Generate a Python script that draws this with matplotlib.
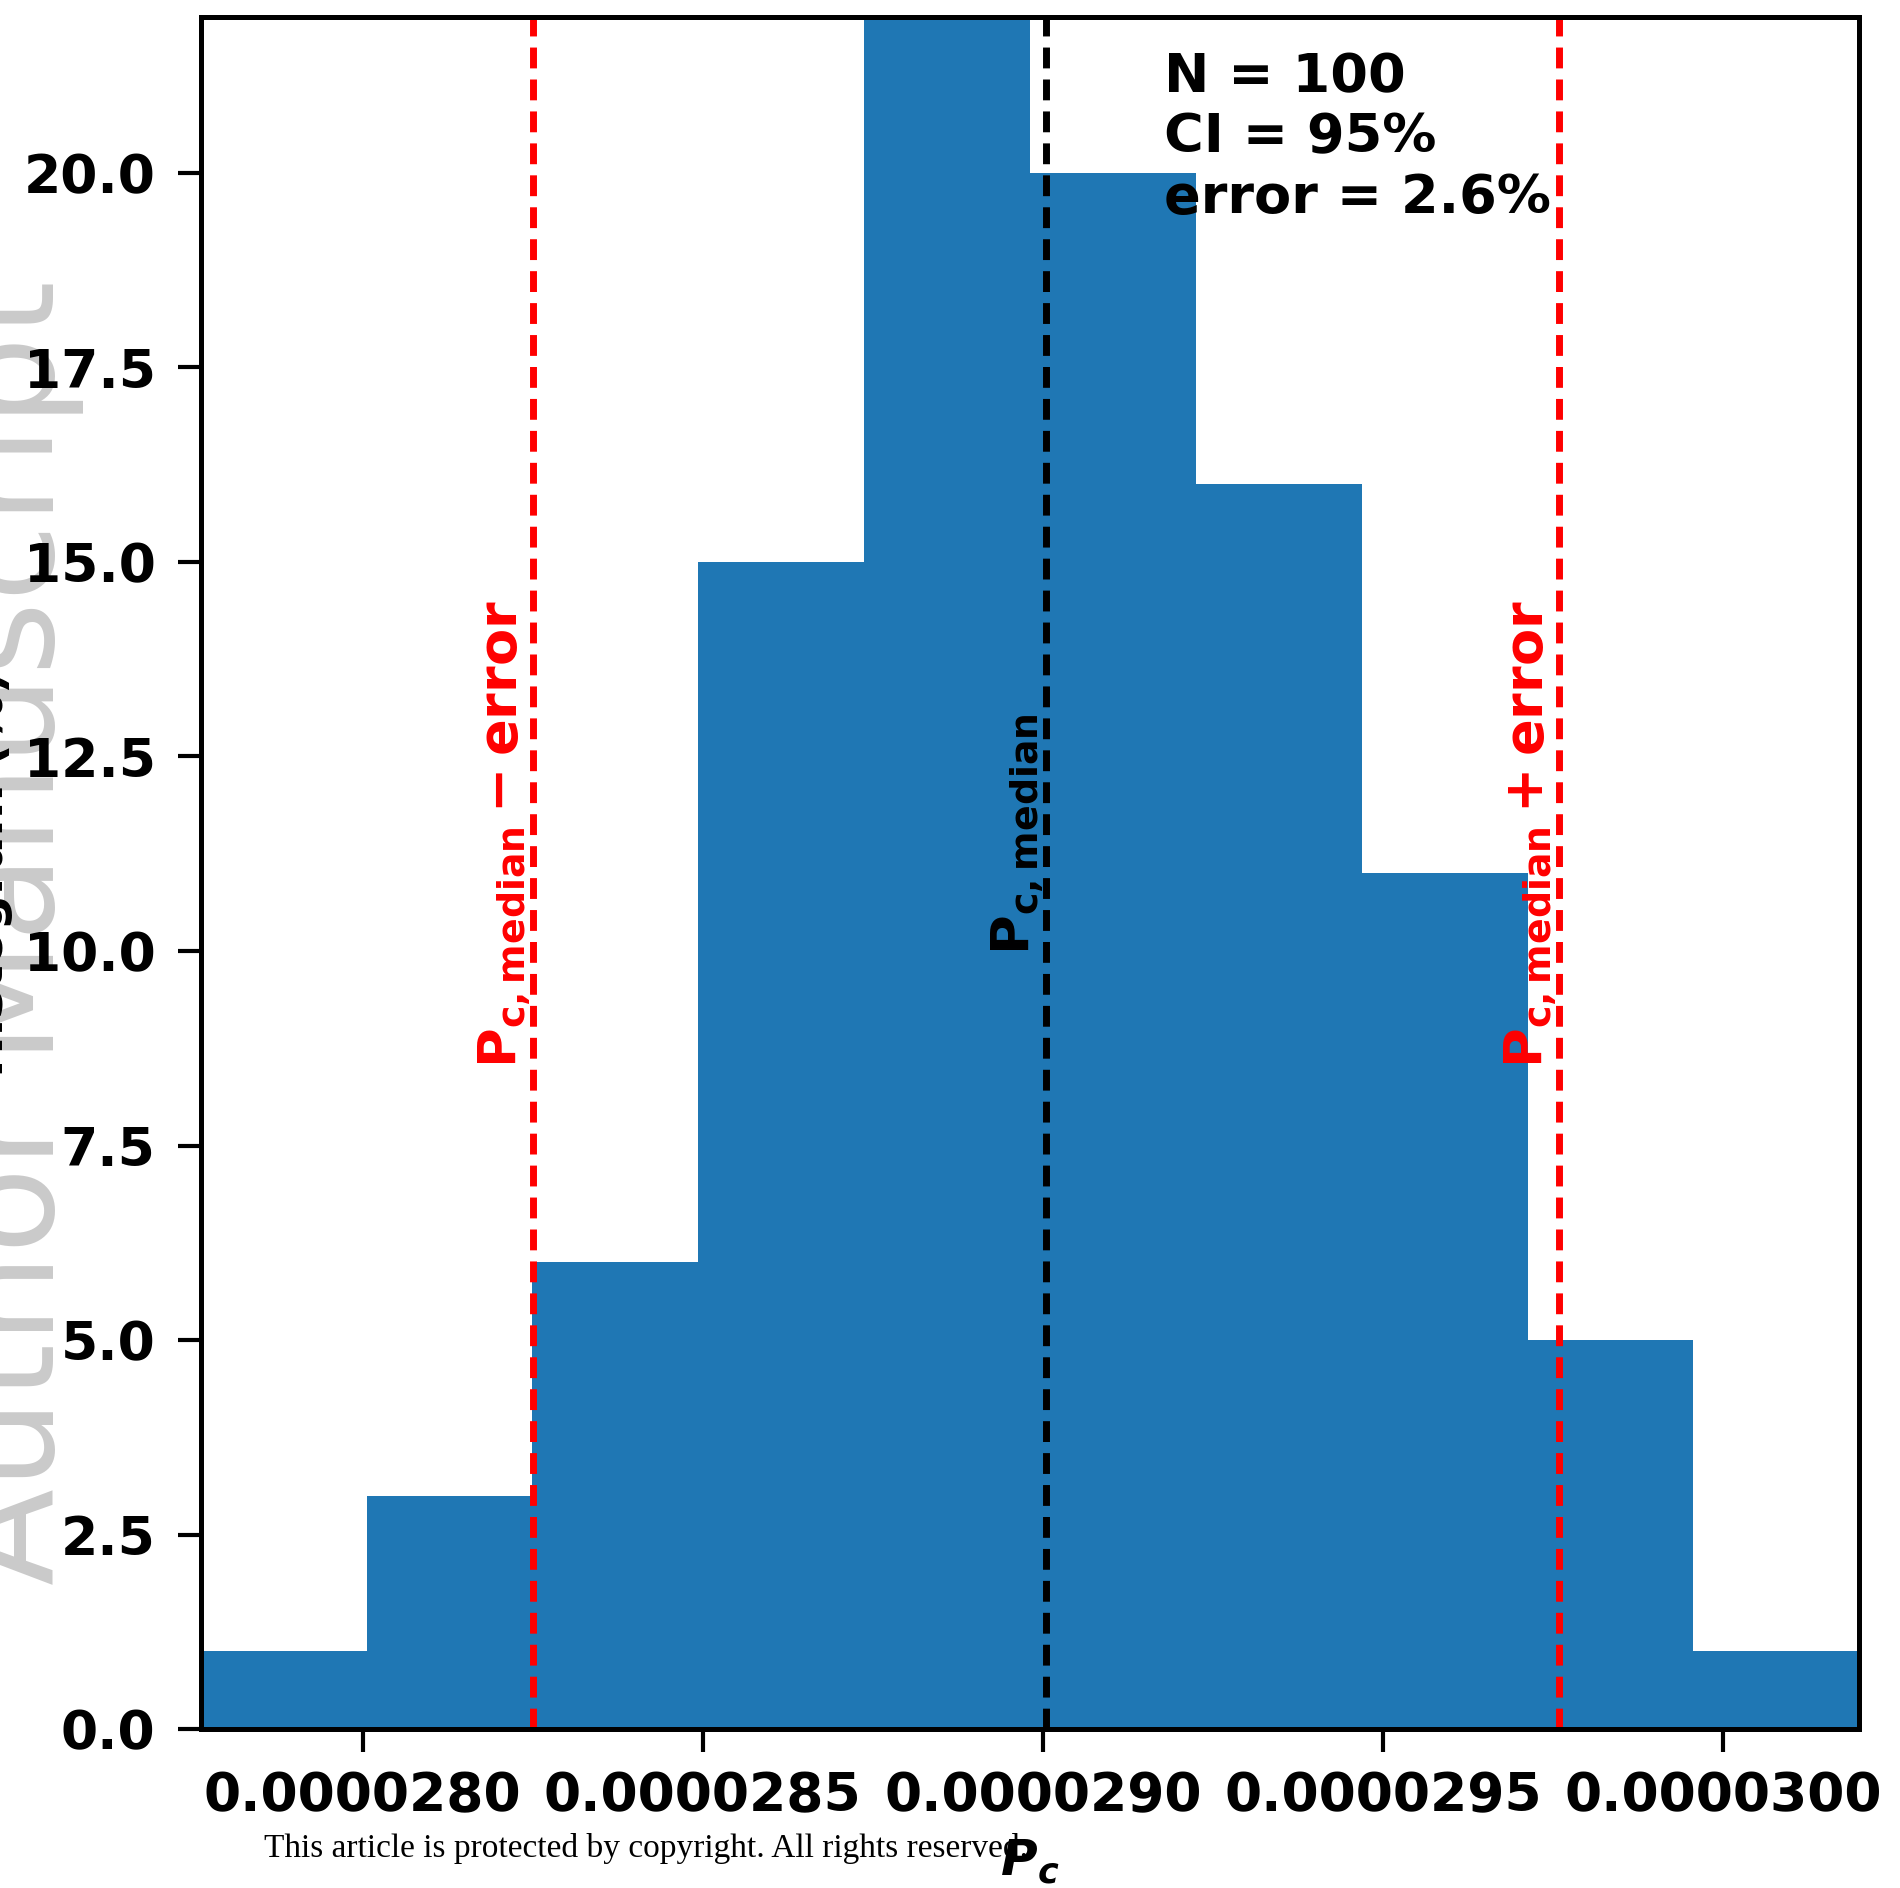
import matplotlib
matplotlib.use("Agg")
import matplotlib.pyplot as plt
from matplotlib.ticker import MultipleLocator, FormatStrFormatter
import numpy as np

# Bootstrap histogram of P_c (N = 100 resamples)
counts = [1, 3, 6, 15, 22, 20, 16, 11, 5, 1]
p_min = 2.7762e-5
p_max = 3.0200e-5
p_median = 2.9005e-5
error_pct = 2.6
n_samples = 100
ci_pct = 95

edges = np.linspace(p_min, p_max, len(counts) + 1)
centers = 0.5 * (edges[:-1] + edges[1:])
lower = p_median * (1 - error_pct / 100)
upper = p_median * (1 + error_pct / 100)

plt.rcParams['font.family'] = 'DejaVu Sans'
plt.rcParams['font.weight'] = 'bold'

fig = plt.figure(figsize=(19, 18.88), dpi=100)
ax = fig.add_axes([0.1056, 0.0842, 0.8730, 0.9066])

ax.hist(centers, bins=edges, weights=counts, color='#1f77b4')

dash = (0, (3.0, 1.6))
ax.axvline(p_median, color='black', lw=5, linestyle=dash)
ax.axvline(lower, color='red', lw=5, linestyle=dash)
ax.axvline(upper, color='red', lw=5, linestyle=dash)

ax.text(lower, 11.5, r'$\mathbf{P_{c,median} - error}$', color='red',
        fontsize=39, rotation=90, ha='right', va='center')
ax.text(p_median, 11.5, r'$\mathbf{P_{c,median}}$', color='black',
        fontsize=39, rotation=90, ha='right', va='center')
ax.text(upper, 11.5, r'$\mathbf{P_{c,median} + error}$', color='red',
        fontsize=39, rotation=90, ha='right', va='center')

ax.text(0.5810, 0.980,
        'N = %d\nCI = %d%%\nerror = %.1f%%' % (n_samples, ci_pct, error_pct),
        transform=ax.transAxes, fontsize=39, fontweight='bold',
        ha='left', va='top')

ax.set_xlim(p_min, p_max)
ax.set_ylim(0, 22)
ax.xaxis.set_major_locator(MultipleLocator(5e-7))
ax.xaxis.set_major_formatter(FormatStrFormatter('%.7f'))
ax.yaxis.set_major_locator(MultipleLocator(2.5))
ax.yaxis.set_major_formatter(FormatStrFormatter('%.1f'))

ax.tick_params(axis='both', labelsize=38.5, width=3, length=16.5)
ax.tick_params(axis='x', pad=13)
ax.tick_params(axis='y', pad=16)
for lab in ax.get_xticklabels() + ax.get_yticklabels():
    lab.set_fontweight('bold')
for sp in ax.spines.values():
    sp.set_linewidth(3.6)

ax.set_xlabel(r'$\mathbfit{P_c}$', fontsize=36)
ax.xaxis.set_label_coords(0.5, -0.0635)
ax.set_ylabel('Histogram (%)', fontsize=36, fontweight='bold')
ax.yaxis.set_label_coords(-0.1132, 0.5)

# journal watermark and footer
fig.text(54 / 1900, 0.5058, 'Author Manuscript', color='#cacaca',
         family='DejaVu Sans', fontweight='normal',
         fontsize=102, rotation=90, rotation_mode='anchor',
         ha='center', va='baseline', zorder=-1)
fig.text(264 / 1900, 0.0165,
         'This article is protected by copyright. All rights reserved.',
         family='Liberation Serif', fontweight='normal', fontsize=24,
         ha='left', va='baseline')

fig.savefig('out.png', dpi=100)
